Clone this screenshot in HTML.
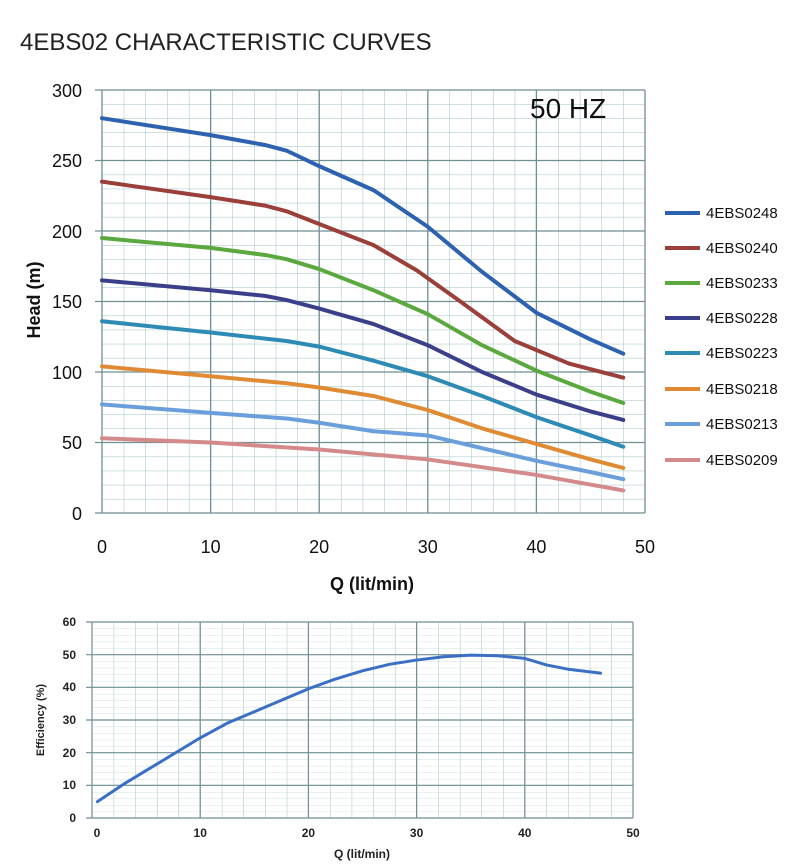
<!DOCTYPE html>
<html><head><meta charset="utf-8"><style>
html,body{margin:0;padding:0;background:#fff;}
svg{display:block;font-family:"Liberation Sans",sans-serif;}
</style></head><body>
<svg width="800" height="868" viewBox="0 0 800 868" xmlns="http://www.w3.org/2000/svg">
<defs>
<pattern id="g1" x="102" y="90" width="21.72" height="14.1" patternUnits="userSpaceOnUse">
<path d="M0 0V14.1M0 0H21.72" stroke="#9cc0c4" stroke-width="1" fill="none"/>
</pattern>
<pattern id="g2" x="92" y="622" width="21.64" height="6.54" patternUnits="userSpaceOnUse">
<path d="M0 0V6.54" stroke="#9cc0c4" stroke-width="1" fill="none"/>
<path d="M0 0H21.64" stroke="#bcd6d8" stroke-width="0.8" fill="none"/>
</pattern>
</defs>
<text x="20" y="50" font-size="24" fill="#222">4EBS02 CHARACTERISTIC CURVES</text>

<!-- top chart -->
<rect x="102" y="90" width="543" height="423" fill="url(#g1)"/>
<g stroke="#6f8f93" stroke-width="1.3">
<line x1="102" y1="90" x2="102" y2="513"/><line x1="210.6" y1="90" x2="210.6" y2="513"/><line x1="319.2" y1="90" x2="319.2" y2="513"/><line x1="427.8" y1="90" x2="427.8" y2="513"/><line x1="536.4" y1="90" x2="536.4" y2="513"/><line x1="645" y1="90" x2="645" y2="513"/>
<line x1="95" y1="90" x2="645" y2="90"/><line x1="95" y1="160.5" x2="645" y2="160.5"/><line x1="95" y1="231" x2="645" y2="231"/><line x1="95" y1="301.5" x2="645" y2="301.5"/><line x1="95" y1="372" x2="645" y2="372"/><line x1="95" y1="442.5" x2="645" y2="442.5"/><line x1="95" y1="513" x2="645" y2="513"/>
</g>
<text x="530" y="118" font-size="28" fill="#111">50 HZ</text>
<g font-size="18" fill="#111" text-anchor="end">
<text x="82" y="97">300</text><text x="82" y="167">250</text><text x="82" y="238">200</text><text x="82" y="308">150</text><text x="82" y="379">100</text><text x="82" y="449">50</text><text x="82" y="520">0</text>
</g>
<g font-size="18" fill="#111" text-anchor="middle">
<text x="102" y="553">0</text><text x="210.6" y="553">10</text><text x="319.2" y="553">20</text><text x="427.8" y="553">30</text><text x="536.4" y="553">40</text><text x="645" y="553">50</text>
</g>
<text x="372" y="590" font-size="18" font-weight="bold" text-anchor="middle" fill="#111">Q (lit/min)</text>
<text transform="translate(40,300) rotate(-90)" font-size="18" font-weight="bold" text-anchor="middle" fill="#111">Head (m)</text>

<g transform="translate(102,513) scale(10.86,-1.41)" fill="none" stroke-width="4" stroke-linejoin="round" stroke-linecap="round">
<polyline vector-effect="non-scaling-stroke" stroke="#2e62b0" points="0,280 10,268 15,261 17,257 20,246 25,229 30,203 35,171 40,142 45,123 48,113"/>
<polyline vector-effect="non-scaling-stroke" stroke="#9b3f3a" points="0,235 10,224 15,218 17,214 20,205 25,190 29,172 33,150 38,122 43,106 48,96"/>
<polyline vector-effect="non-scaling-stroke" stroke="#5aa83e" points="0,195 10,188 15,183 17,180 20,173 25,158 30,141 35,119 40,101 45,86 48,78"/>
<polyline vector-effect="non-scaling-stroke" stroke="#3b3f8a" points="0,165 10,158 15,154 17,151 20,145 25,134 30,119 35,100 40,84 45,72 48,66"/>
<polyline vector-effect="non-scaling-stroke" stroke="#2e8bb5" points="0,136 10,128 17,122 20,118 25,108 30,97 35,83 40,68 45,55 48,47"/>
<polyline vector-effect="non-scaling-stroke" stroke="#e08b34" points="0,104 10,97 17,92 20,89 25,83 30,73 35,60 40,49 45,38 48,32"/>
<polyline vector-effect="non-scaling-stroke" stroke="#6a9fdc" points="0,77 10,71 17,67 20,64 25,58 30,55 35,46 40,37 45,29 48,24"/>
<polyline vector-effect="non-scaling-stroke" stroke="#d48a8a" points="0,53 10,50 20,45 30,38 40,27 48,16"/>
</g>

<g stroke-width="4">
<line x1="665" y1="213" x2="700" y2="213" stroke="#2e62b0"/>
<line x1="665" y1="248" x2="700" y2="248" stroke="#9b3f3a"/>
<line x1="665" y1="283" x2="700" y2="283" stroke="#5aa83e"/>
<line x1="665" y1="318" x2="700" y2="318" stroke="#3b3f8a"/>
<line x1="665" y1="353" x2="700" y2="353" stroke="#2e8bb5"/>
<line x1="665" y1="389" x2="700" y2="389" stroke="#e08b34"/>
<line x1="665" y1="424" x2="700" y2="424" stroke="#6a9fdc"/>
<line x1="665" y1="460" x2="700" y2="460" stroke="#d48a8a"/>
</g>
<g font-size="15" fill="#111">
<text x="706" y="218">4EBS0248</text><text x="706" y="253">4EBS0240</text><text x="706" y="288">4EBS0233</text><text x="706" y="323">4EBS0228</text><text x="706" y="358">4EBS0223</text><text x="706" y="394">4EBS0218</text><text x="706" y="429">4EBS0213</text><text x="706" y="465">4EBS0209</text>
</g>

<!-- bottom chart -->
<rect x="92" y="622" width="541" height="196" fill="url(#g2)"/>
<g stroke="#6f8f93" stroke-width="1.2">
<line x1="92" y1="622" x2="92" y2="818"/><line x1="200.2" y1="622" x2="200.2" y2="818"/><line x1="308.4" y1="622" x2="308.4" y2="818"/><line x1="416.6" y1="622" x2="416.6" y2="818"/><line x1="524.8" y1="622" x2="524.8" y2="818"/><line x1="633" y1="622" x2="633" y2="818"/>
<line x1="86" y1="622" x2="633" y2="622"/><line x1="86" y1="654.7" x2="633" y2="654.7"/><line x1="86" y1="687.3" x2="633" y2="687.3"/><line x1="86" y1="720" x2="633" y2="720"/><line x1="86" y1="752.7" x2="633" y2="752.7"/><line x1="86" y1="785.3" x2="633" y2="785.3"/><line x1="86" y1="818" x2="633" y2="818"/>
</g>
<g font-size="12" font-weight="bold" fill="#222" text-anchor="end">
<text x="76" y="626">60</text><text x="76" y="659">50</text><text x="76" y="691">40</text><text x="76" y="724">30</text><text x="76" y="757">20</text><text x="76" y="789">10</text><text x="76" y="822">0</text>
</g>
<g font-size="12" font-weight="bold" fill="#222" text-anchor="middle">
<text x="97" y="837">0</text><text x="200.2" y="837">10</text><text x="308.4" y="837">20</text><text x="416.6" y="837">30</text><text x="524.8" y="837">40</text><text x="633" y="837">50</text>
</g>
<text x="362" y="858" font-size="12" font-weight="bold" text-anchor="middle" fill="#222">Q (lit/min)</text>
<text transform="translate(44,720) rotate(-90)" font-size="11" font-weight="bold" text-anchor="middle" fill="#222">Efficiency (%)</text>
<g transform="translate(92,818) scale(10.82,-3.27)" fill="none">
<polyline vector-effect="non-scaling-stroke" stroke="#3a6fc4" stroke-width="3" stroke-linejoin="round" stroke-linecap="round" points="0.5,5 3,10.5 5,14.5 7.5,19.5 10,24.5 12.5,29 15,32.5 17.5,36 20,39.5 22.5,42.5 25,45 27.5,47 30,48.3 32.5,49.3 35,49.8 37.5,49.6 40,48.8 42,46.8 44,45.5 47,44.3"/>
</g>
</svg>
</body></html>
